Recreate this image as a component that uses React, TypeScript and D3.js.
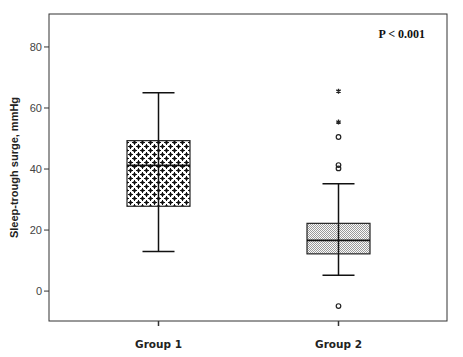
import React from "react";
import * as d3 from "d3";

const categories = ["Group 1", "Group 2"];
const whiskerLow = [13, 5.2];
const q1 = [27.8, 12.2];
const median = [41.2, 16.6];
const q3 = [49.3, 22.2];
const whiskerHigh = [65, 35.2];
const circleOutliers = [
  { g: 1, v: 50.5 },
  { g: 1, v: 41.3 },
  { g: 1, v: 40.2 },
  { g: 1, v: -4.9 },
];
const starOutliers = [
  { g: 1, v: 65.5 },
  { g: 1, v: 55.4 },
];
const yTicks = [0, 20, 40, 60, 80];
const yTitle = "Sleep-trough surge, mmHg";
const pText = "P < 0.001";

const W = 463;
const H = 357;
const left = 49;
const right = 447;
const top = 14;
const bottom = 321;

export default function App() {
  const y = d3.scaleLinear().domain([-9.8, 90.8]).range([bottom, top]);
  const x = d3.scalePoint().domain(categories).range([left, right]).padding(0.611);
  const cx = (i: number) => Math.round(x(categories[i]) as number) + 0.5;
  const boxW = 63;
  const capW = 32;
  const star = d3.symbol().type(d3.symbolAsterisk).size(18)();
  return (
    <svg width={W} height={H} style={{ position: "absolute", left: 0, top: 0, background: "#fff" }}>
      <defs>
        <pattern id="p1" width={8} height={8} patternUnits="userSpaceOnUse">
          <rect width={8} height={8} fill="#fff" />
          <rect x={1} y={1} width={3} height={3} fill="#777" />
          <rect x={5} y={5} width={3} height={3} fill="#777" />
          <path d="M2 0h1v5h-1zM0 2h5v1h-5z M6 4h1v5h-1zM4 6h5v1h-5z M6 0h1v1h-1zM0 6h1v1h-1z" fill="#111" />
        </pattern>
        <pattern id="p2" width={2} height={2} patternUnits="userSpaceOnUse">
          <rect width={2} height={2} fill="#fafafa" />
          <rect x={0} y={0} width={1} height={1} fill="#9a9a9a" />
          <rect x={1} y={1} width={1} height={1} fill="#9a9a9a" />
        </pattern>
      </defs>
      <rect x={left} y={top} width={right - left} height={bottom - top} fill="none" stroke="#333" strokeWidth={1} />
      {yTicks.map((t) => (
        <g key={t}>
          <line x1={left - 5} x2={left} y1={y(t)} y2={y(t)} stroke="#333" />
          <text x={left - 7} y={y(t)} dy="0.35em" textAnchor="end" fontFamily="Liberation Sans, Arial" fontSize={11} fill="#444">
            {t}
          </text>
        </g>
      ))}
      {categories.map((c, i) => (
        <g key={c}>
          <line x1={cx(i)} x2={cx(i)} y1={bottom} y2={bottom + 5} stroke="#333" strokeWidth={1.5} />
          <text x={cx(i)} y={bottom + 27} textAnchor="middle" fontFamily="DejaVu Sans, Arial" fontWeight="bold" fontSize={10.5} fill="#222">
            {c}
          </text>
          <line x1={cx(i)} x2={cx(i)} y1={y(whiskerHigh[i])} y2={y(whiskerLow[i])} stroke="#111" strokeWidth={1.5} />
          <line x1={cx(i) - capW / 2} x2={cx(i) + capW / 2} y1={y(whiskerHigh[i])} y2={y(whiskerHigh[i])} stroke="#111" strokeWidth={1.5} />
          <line x1={cx(i) - capW / 2} x2={cx(i) + capW / 2} y1={y(whiskerLow[i])} y2={y(whiskerLow[i])} stroke="#111" strokeWidth={1.5} />
          <rect
            x={cx(i) - boxW / 2}
            y={y(q3[i])}
            width={boxW}
            height={y(q1[i]) - y(q3[i])}
            fill={i === 0 ? "url(#p1)" : "url(#p2)"}
            stroke="#222"
            strokeWidth={1.2}
          />
          <line x1={cx(i)} x2={cx(i)} y1={y(q3[i])} y2={y(q1[i])} stroke="#111" strokeWidth={1.5} />
          <line x1={cx(i) - boxW / 2} x2={cx(i) + boxW / 2} y1={y(median[i])} y2={y(median[i])} stroke="#111" strokeWidth={1.8} />
        </g>
      ))}
      {circleOutliers.map((o, k) => (
        <circle key={k} cx={cx(o.g)} cy={y(o.v)} r={2.3} fill="#fff" fillOpacity={0} stroke="#222" strokeWidth={1.2} />
      ))}
      {starOutliers.map((o, k) => (
        <path key={k} d={star as string} transform={`translate(${cx(o.g)},${y(o.v)})`} fill="none" stroke="#222" strokeWidth={1.3} />
      ))}
      <text
        transform={`translate(18,${(top + bottom) / 2}) rotate(-90)`}
        textAnchor="middle"
        fontFamily="Liberation Sans, Arial"
        fontWeight="bold"
        fontSize={11}
        fill="#222"
      >
        {yTitle}
      </text>
      <text x={425} y={38} textAnchor="end" fontFamily="Liberation Serif, Times New Roman" fontWeight="bold" fontSize={12} fill="#111">
        {pText}
      </text>
    </svg>
  );
}
